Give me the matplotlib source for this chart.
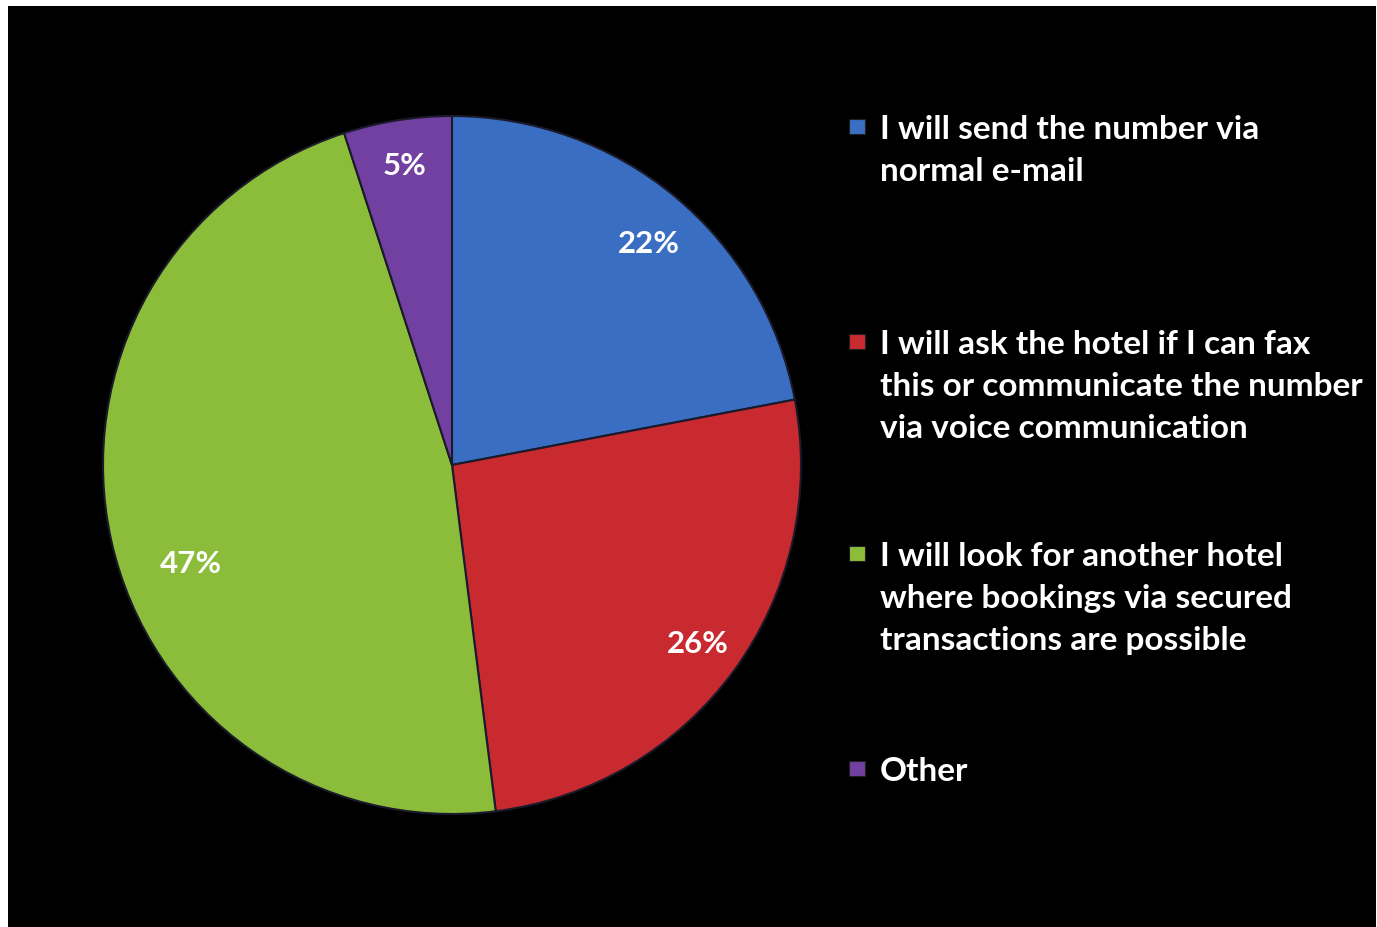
import numpy as np
import matplotlib.pyplot as plt
from matplotlib.patches import Rectangle

# survey answers, clockwise from 12 o'clock
answers = [
    "I will send the number via\nnormal e-mail",
    "I will ask the hotel if I can fax\nthis or communicate the number\nvia voice communication",
    "I will look for another hotel\nwhere bookings via secured\ntransactions are possible",
    "Other",
]
shares = [22, 26, 47, 5]
colors = ["#3a6ec2", "#c92a30", "#8cbd3a", "#7240a0"]

# where the percentage labels sit: fraction of radius, nudge in degrees
label_dist = [0.85, 0.87, 0.80, 0.87]
label_nudge = [-2, 0, 8, 0]

W, H = 1377, 928
fig = plt.figure(figsize=(W / 100, H / 100), dpi=100, facecolor="white")

# black panel with a thin white margin on top / left
bg = fig.add_axes([8 / W, 0, (W - 9) / W, (H - 7) / H])
bg.set_facecolor("black")
bg.set_xticks([])
bg.set_yticks([])
for s in bg.spines.values():
    s.set_visible(False)

cx, cy, r = 452, 466, 349
ax = fig.add_axes([(cx - r) / W, (H - cy - r) / H, 2 * r / W, 2 * r / H])
wedges, texts, autotexts = ax.pie(
    shares, colors=colors, startangle=90, counterclock=False,
    autopct="%d%%",
    wedgeprops=dict(edgecolor="#1a1a2a", linewidth=1.5),
    textprops=dict(color="white", fontsize=22.5, fontweight="bold", family="Lato"),
)
for w, t, d, n in zip(wedges, autotexts, label_dist, label_nudge):
    mid = np.deg2rad((w.theta1 + w.theta2) / 2 + n)
    t.set_position((d * np.cos(mid), d * np.sin(mid)))

ax.set_xlim(-1, 1)
ax.set_ylim(-1, 1)
ax.set_aspect("equal")
ax.axis("off")

# legend drawn by hand: square marker + wrapped label
legend_tops = [128, 343, 555, 770]
for label, col, ytop in zip(answers, colors, legend_tops):
    fig.patches.append(Rectangle((849 / W, 1 - (ytop + 7) / H), 16 / W, 15 / H,
                                 transform=fig.transFigure, facecolor=col,
                                 edgecolor="#202020", linewidth=0.8))
    fig.text(880 / W, 1 - (ytop - 13) / H, label, color="white",
             fontsize=24, fontweight="bold", family="Lato",
             va="top", ha="left", linespacing=1.55)

fig.savefig("out.png", dpi=100, facecolor=fig.get_facecolor())
